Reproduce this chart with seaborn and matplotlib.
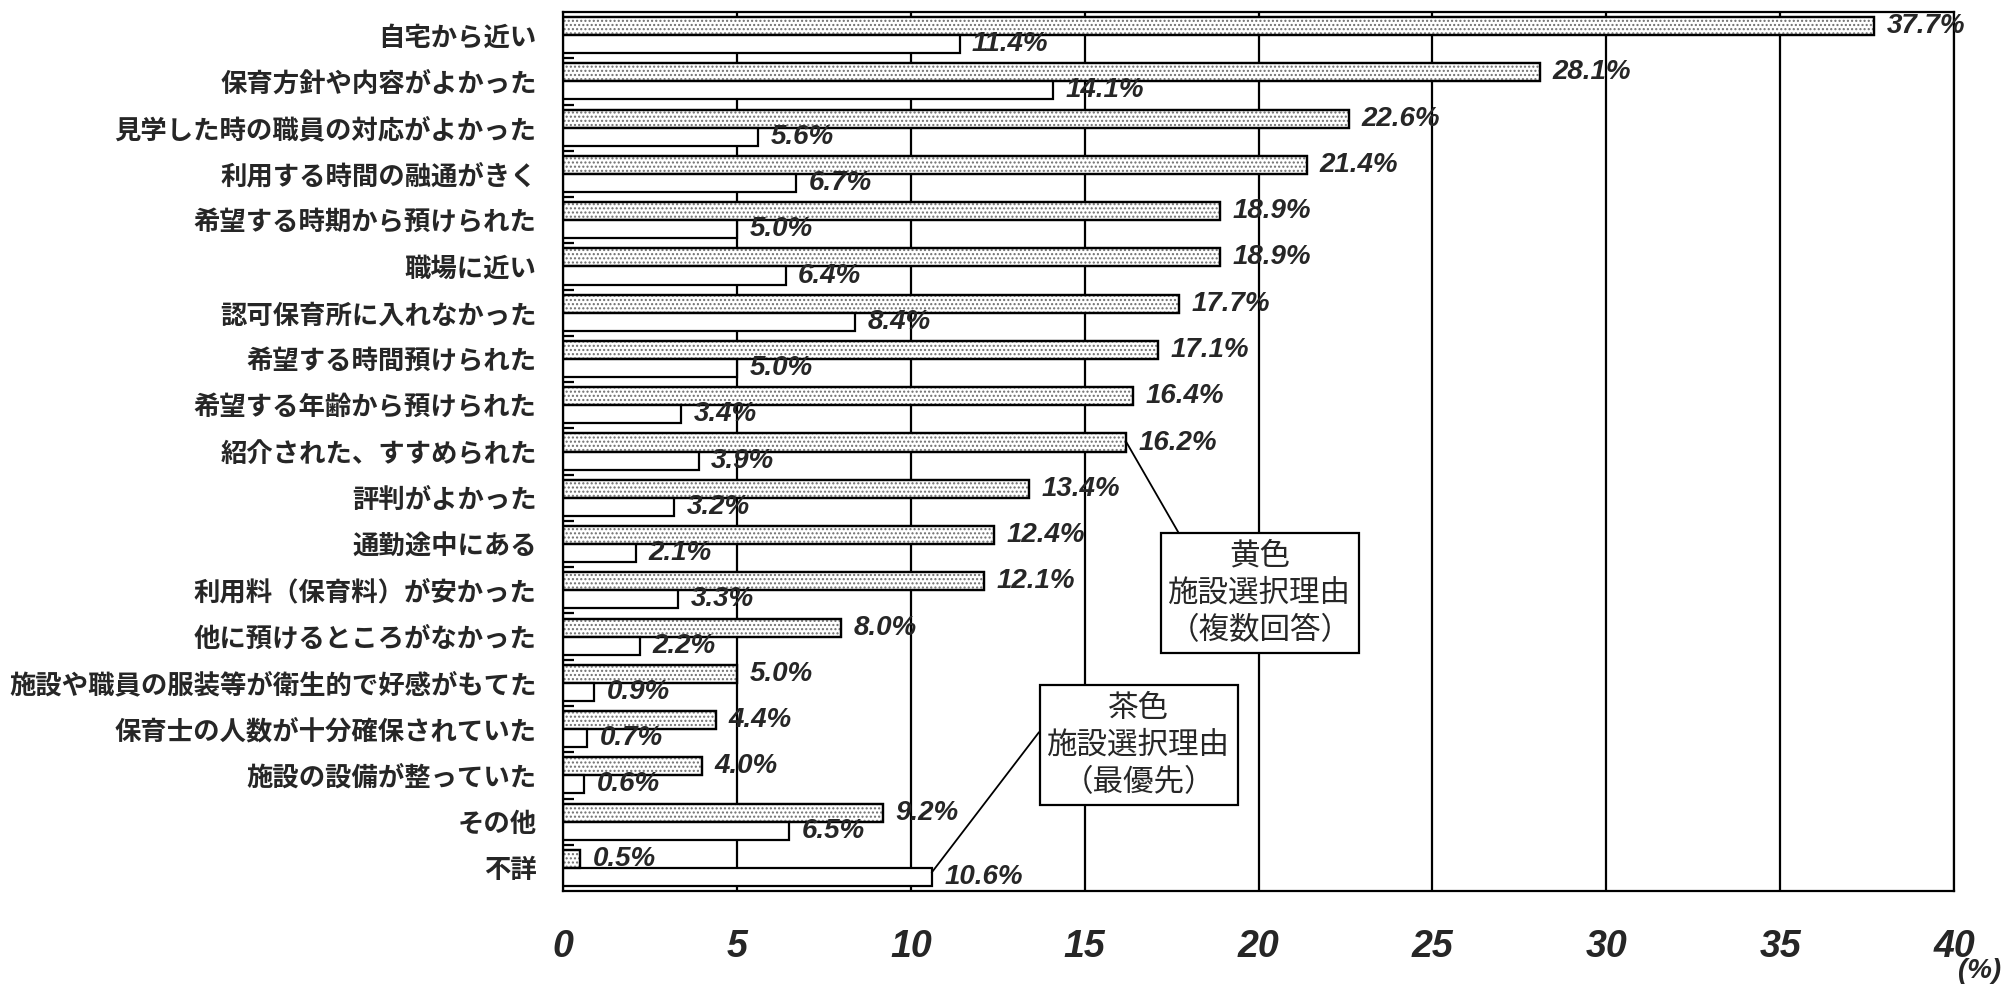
import numpy as np
import pandas as pd
import matplotlib
matplotlib.use('Agg')
import matplotlib.pyplot as plt
from matplotlib.patches import Rectangle
import seaborn as sns

# Data
categories = [
    '自宅から近い',
    '保育方針や内容がよかった',
    '見学した時の職員の対応がよかった',
    '利用する時間の融通がきく',
    '希望する時期から預けられた',
    '職場に近い',
    '認可保育所に入れなかった',
    '希望する時間預けられた',
    '希望する年齢から預けられた',
    '紹介された、すすめられた',
    '評判がよかった',
    '通勤途中にある',
    '利用料（保育料）が安かった',
    '他に預けるところがなかった',
    '施設や職員の服装等が衛生的で好感がもてた',
    '保育士の人数が十分確保されていた',
    '施設の設備が整っていた',
    'その他',
    '不詳',
]
multi_pct = [37.7, 28.1, 22.6, 21.4, 18.9, 18.9, 17.7, 17.1, 16.4, 16.2,
             13.4, 12.4, 12.1, 8.0, 5.0, 4.4, 4.0, 9.2, 0.5]
top_pct = [11.4, 14.1, 5.6, 6.7, 5.0, 6.4, 8.4, 5.0, 3.4, 3.9,
           3.2, 2.1, 3.3, 2.2, 0.9, 0.7, 0.6, 6.5, 10.6]
series_names = ['複数回答', '最優先']
x_ticks = [0, 5, 10, 15, 20, 25, 30, 35, 40]

# Style
sns.set_style('white')
plt.rcParams['font.family'] = ['Noto Sans CJK JP', 'DejaVu Sans']
plt.rcParams['hatch.linewidth'] = 1.0
num_font = ['Liberation Sans', 'DejaVu Sans']
LW = 1.6

# Long format table
df = pd.DataFrame({
    'reason': categories * 2,
    'pct': multi_pct + top_pct,
    'series': [series_names[0]] * len(categories) + [series_names[1]] * len(categories),
})

fig = plt.figure(figsize=(20.06, 9.86), dpi=100)
ax = fig.add_axes([0.2807, 0.0963, 0.6934, 0.8915])

sns.barplot(data=df, x='pct', y='reason', hue='series', orient='h',
            width=0.78, gap=0, palette=['white', 'white'], saturation=1,
            edgecolor='black', linewidth=LW, errorbar=None, legend=False, ax=ax)

# Dotted fill for the multiple-answer bars
for bar in ax.containers[0]:
    z = bar.get_zorder()
    ax.add_patch(Rectangle(bar.get_xy(), bar.get_width(), bar.get_height(),
                           fill=False, hatch='....', edgecolor='#6e6e6e',
                           linewidth=0, zorder=z + 0.1))
    ax.add_patch(Rectangle(bar.get_xy(), bar.get_width(), bar.get_height(),
                           fill=False, edgecolor='black', linewidth=LW,
                           zorder=z + 0.2))

# Value labels
for cont, vals in zip(ax.containers, [multi_pct, top_pct]):
    ax.bar_label(cont, labels=[f'{v:.1f}%' for v in vals], padding=9,
                 fontsize=20, fontweight='bold', fontstyle='italic',
                 family=num_font)

# Axes
ax.set_xlim(0, 40)
ax.set_ylim(len(categories) - 0.5, -0.5)
ax.set_xticks(x_ticks)
ax.set_xticklabels([str(t) for t in x_ticks], fontsize=27, fontweight='bold',
                   fontstyle='italic', family=num_font)
ax.tick_params(axis='x', length=0, pad=27)
ax.tick_params(axis='y', which='major', length=0, pad=19, labelsize=19)
for lab in ax.get_yticklabels():
    lab.set_fontweight('bold')
ax.set_yticks(np.arange(0.5, len(categories) - 0.5, 1), minor=True)
ax.tick_params(axis='y', which='minor', direction='in', length=8, width=LW,
               color='black', left=True)
ax.set_xlabel('')
ax.set_ylabel('')
ax.grid(axis='x', color='black', linewidth=LW)
ax.set_axisbelow(True)
for sp in ax.spines.values():
    sp.set_visible(True)
    sp.set_color('black')
    sp.set_linewidth(LW)

fig.text(0.987, 0.015, '(%)', ha='center', va='center', fontsize=20,
         fontweight='bold', fontstyle='italic', family=num_font)

# Call-out boxes
box = dict(boxstyle='square,pad=0.25', fc='white', ec='black', lw=LW)
ax.annotate('黄色\n施設選択理由\n（複数回答）', xy=(16.2, 8.8), xytext=(20.04, 12.06),
            ha='center', va='center', fontsize=22, linespacing=1.25, bbox=box,
            arrowprops=dict(arrowstyle='-', color='black', lw=1.3,
                            relpos=(0.08, 1.0), shrinkA=0, shrinkB=0))
ax.annotate('茶色\n施設選択理由\n（最優先）', xy=(10.6, 18.1), xytext=(16.56, 15.35),
            ha='center', va='center', fontsize=22, linespacing=1.25, bbox=box,
            arrowprops=dict(arrowstyle='-', color='black', lw=1.3,
                            relpos=(0.0, 0.73), shrinkA=0, shrinkB=0))

fig.savefig('out.png', dpi=100)
